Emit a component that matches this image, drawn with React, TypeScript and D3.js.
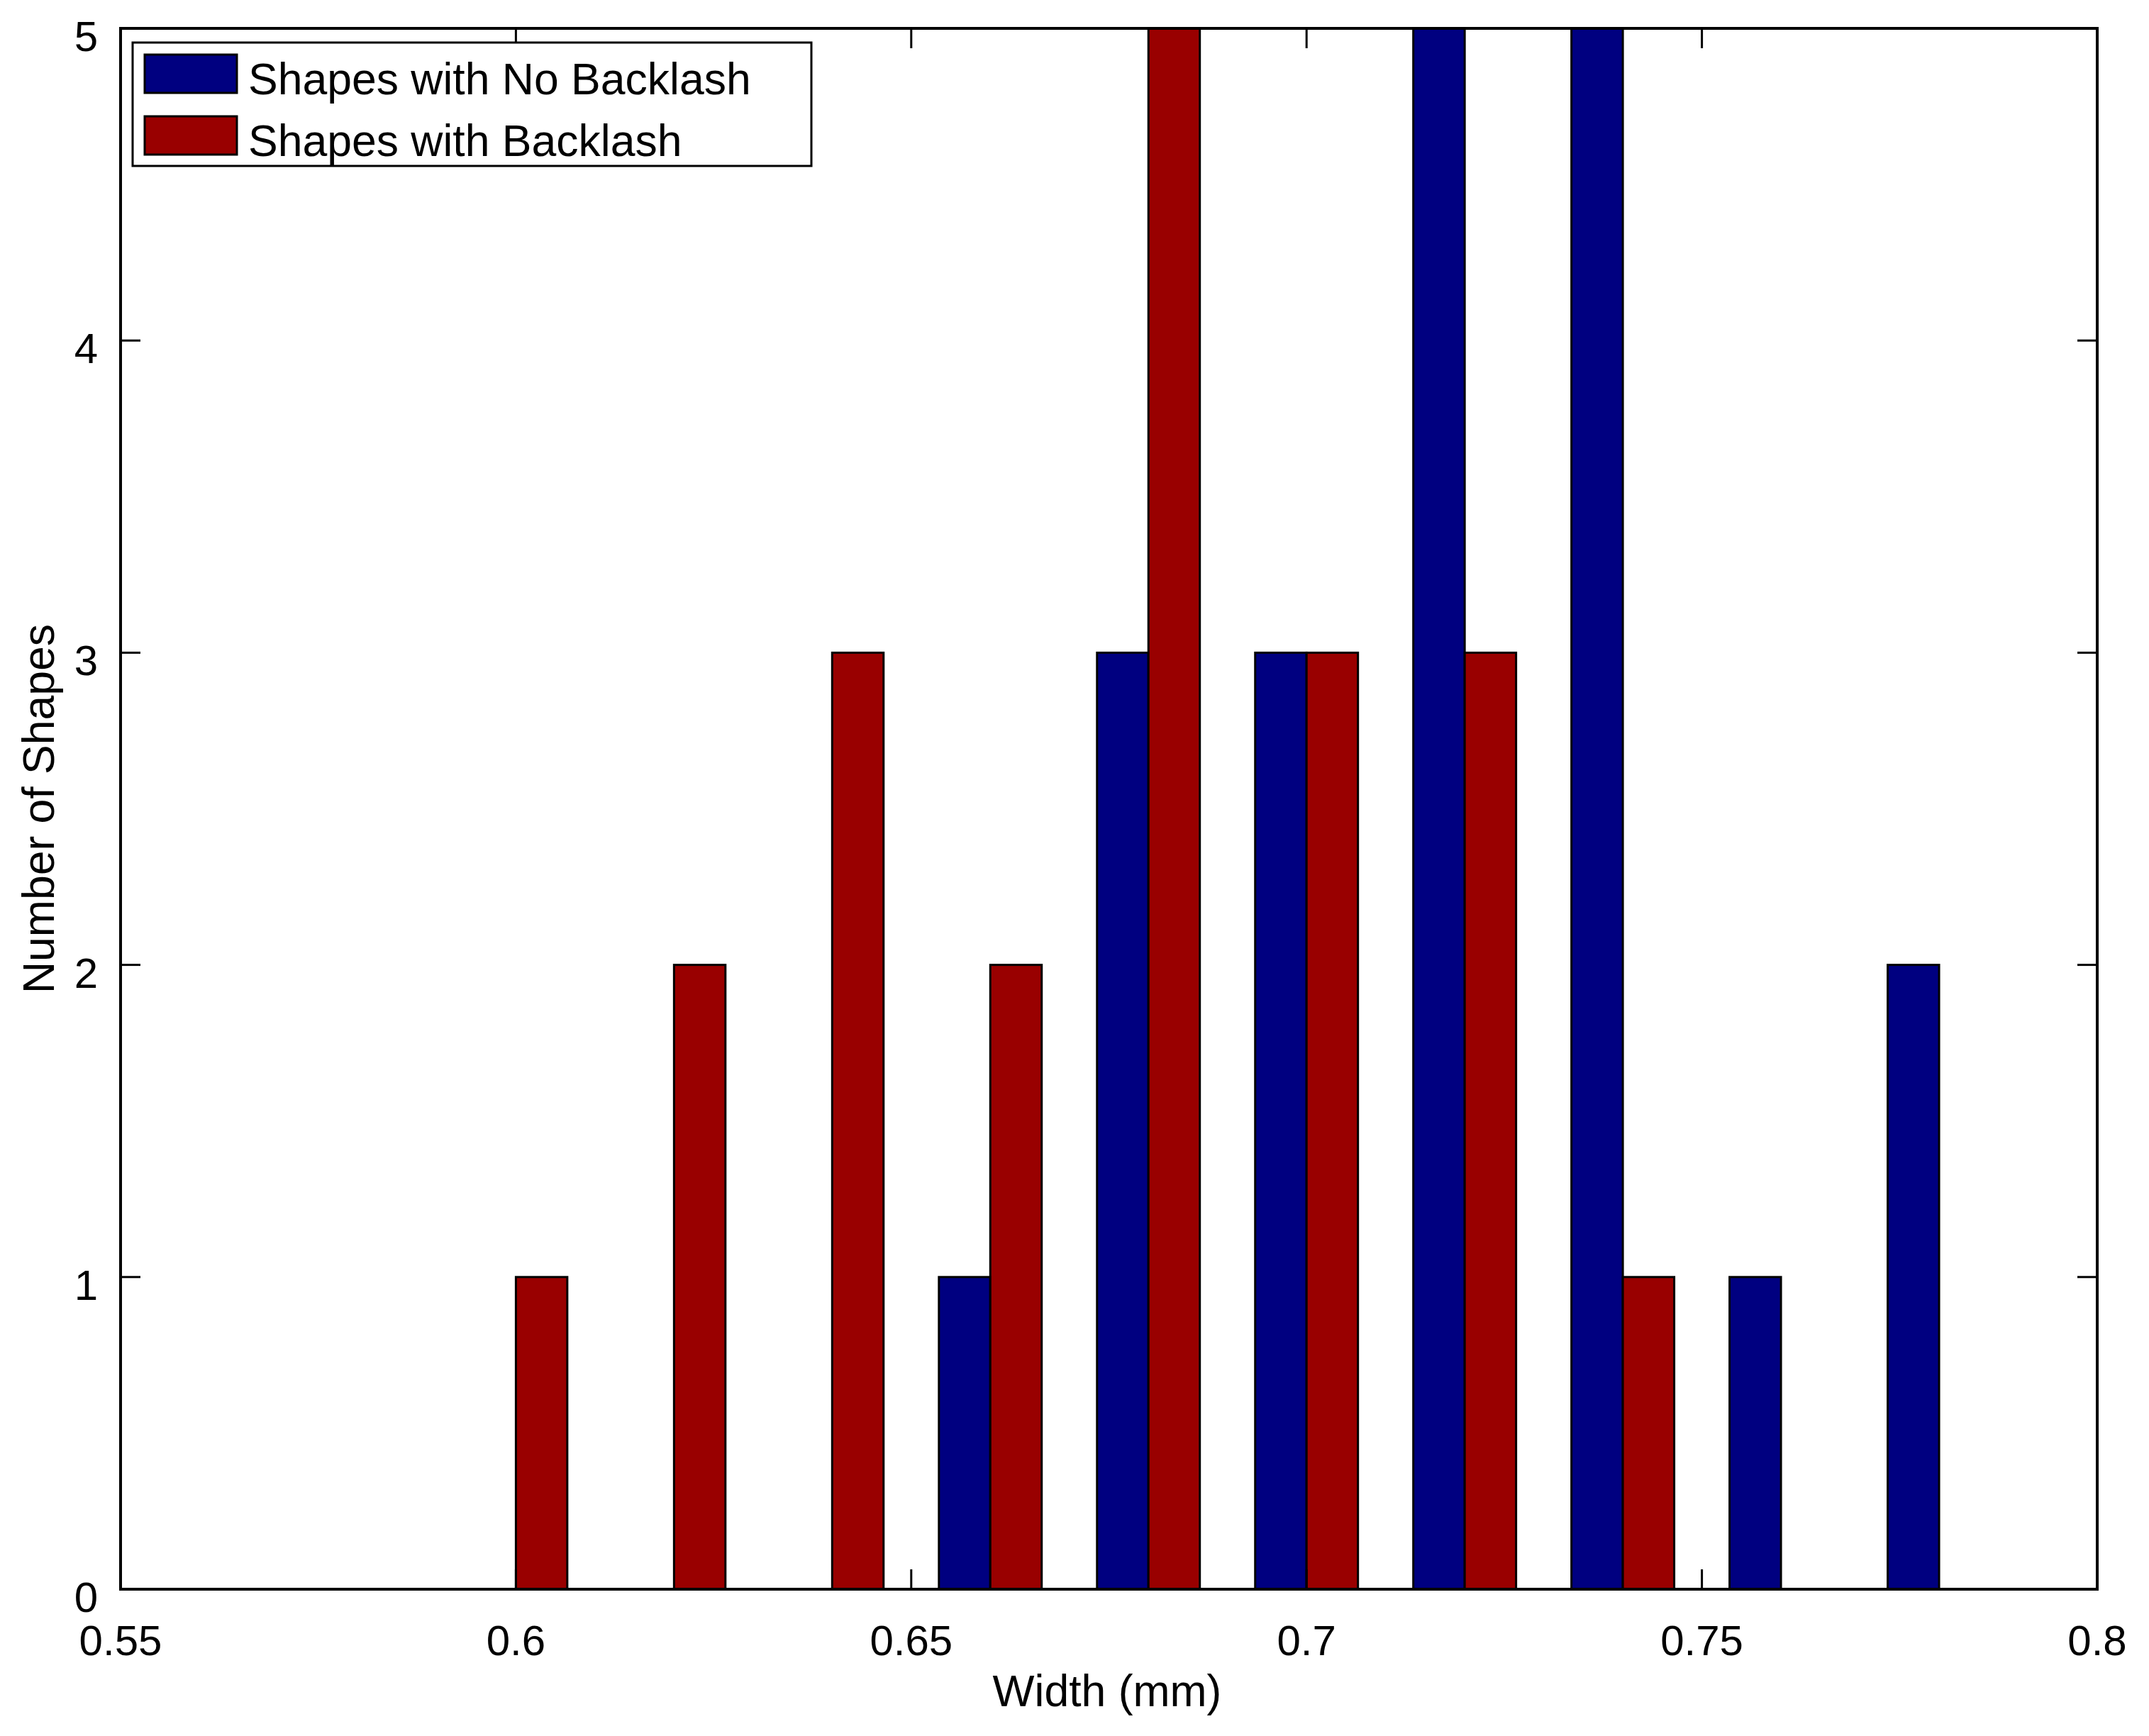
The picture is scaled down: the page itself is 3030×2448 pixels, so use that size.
import React from 'react';
import * as d3 from 'd3';

// Bin centres (mm) and counts per bin
const binCenters = [0.6, 0.62, 0.64, 0.66, 0.68, 0.7, 0.72, 0.74, 0.76, 0.78];
const noBacklash = [0, 0, 0, 1, 3, 3, 5, 5, 1, 2];
const withBacklash = [1, 2, 3, 2, 5, 3, 3, 1, 0, 0];

const seriesNames = ['Shapes with No Backlash', 'Shapes with Backlash'];
const seriesColors = ['#000080', '#990000'];

const xTicks = [0.55, 0.6, 0.65, 0.7, 0.75, 0.8];
const xTickLabels = ['0.55', '0.6', '0.65', '0.7', '0.75', '0.8'];
const yTicks = [0, 1, 2, 3, 4, 5];

const W = 3030;
const H = 2448;
const margin = { left: 170, right: 73, top: 40, bottom: 207 };
const FONT = "'Liberation Sans', Arial, Helvetica, sans-serif";

const App: React.FC = () => {
  const x = d3
    .scaleLinear()
    .domain([0.55, 0.8])
    .range([margin.left, W - margin.right]);
  const y = d3
    .scaleLinear()
    .domain([0, 5])
    .range([H - margin.bottom, margin.top]);

  const barW = 0.0065; // width of each bar in data units
  const series = [noBacklash, withBacklash];
  const tickLen = 28;
  const x0 = x.range()[0];
  const x1 = x.range()[1];
  const y0 = y.range()[0];
  const y1 = y.range()[1];

  return (
    <svg
      width={W}
      height={H}
      style={{ position: 'absolute', left: 0, top: 0, background: '#fff' }}
      fontFamily={FONT}
    >
      <rect x={0} y={0} width={W} height={H} fill="#fff" />

      {/* bars */}
      {series.map((vals, s) =>
        vals.map((v, i) => {
          const left = s === 0 ? binCenters[i] - barW : binCenters[i];
          const px = x(left);
          const pw = x(left + barW) - px;
          return (
            <rect
              key={`${s}-${i}`}
              x={px}
              y={y(v)}
              width={pw}
              height={y(0) - y(v)}
              fill={seriesColors[s]}
              stroke="#000"
              strokeWidth={3}
            />
          );
        })
      )}

      {/* x ticks (bottom and top, inward) */}
      {xTicks.map((t, i) => (
        <g key={`xt${i}`}>
          <line x1={x(t)} x2={x(t)} y1={y0} y2={y0 - tickLen} stroke="#000" strokeWidth={3} />
          <line x1={x(t)} x2={x(t)} y1={y1} y2={y1 + tickLen} stroke="#000" strokeWidth={3} />
          <text
            x={x(t)}
            y={y0 + 93}
            fontSize={60}
            textAnchor="middle"
            fill="#000"
          >
            {xTickLabels[i]}
          </text>
        </g>
      ))}

      {/* y ticks (left and right, inward) */}
      {yTicks.map(t => (
        <g key={`yt${t}`}>
          <line x1={x0} x2={x0 + tickLen} y1={y(t)} y2={y(t)} stroke="#000" strokeWidth={3} />
          <line x1={x1} x2={x1 - tickLen} y1={y(t)} y2={y(t)} stroke="#000" strokeWidth={3} />
          <text
            x={x0 - 32}
            y={y(t) + 32}
            fontSize={60}
            textAnchor="end"
            fill="#000"
          >
            {t}
          </text>
        </g>
      ))}

      {/* axes box */}
      <rect
        x={x0}
        y={y1}
        width={x1 - x0}
        height={y0 - y1}
        fill="none"
        stroke="#000"
        strokeWidth={4}
      />

      {/* axis labels */}
      <text x={1561} y={2406} fontSize={62.5} textAnchor="middle" fill="#000">
        Width (mm)
      </text>
      <text
        transform={`translate(76, ${(y0 + y1) / 2}) rotate(-90)`}
        fontSize={62.5}
        textAnchor="middle"
        fill="#000"
      >
        Number of Shapes
      </text>

      {/* legend */}
      <g>
        <rect x={187} y={60} width={957} height={174} fill="#fff" stroke="#000" strokeWidth={3} />
        {seriesNames.map((name, i) => (
          <g key={name}>
            <rect
              x={204}
              y={77 + i * 87}
              width={130}
              height={54}
              fill={seriesColors[i]}
              stroke="#000"
              strokeWidth={3}
            />
            <text x={350} y={133 + i * 87} fontSize={62.5} fill="#000">
              {name}
            </text>
          </g>
        ))}
      </g>
    </svg>
  );
};

export default App;
